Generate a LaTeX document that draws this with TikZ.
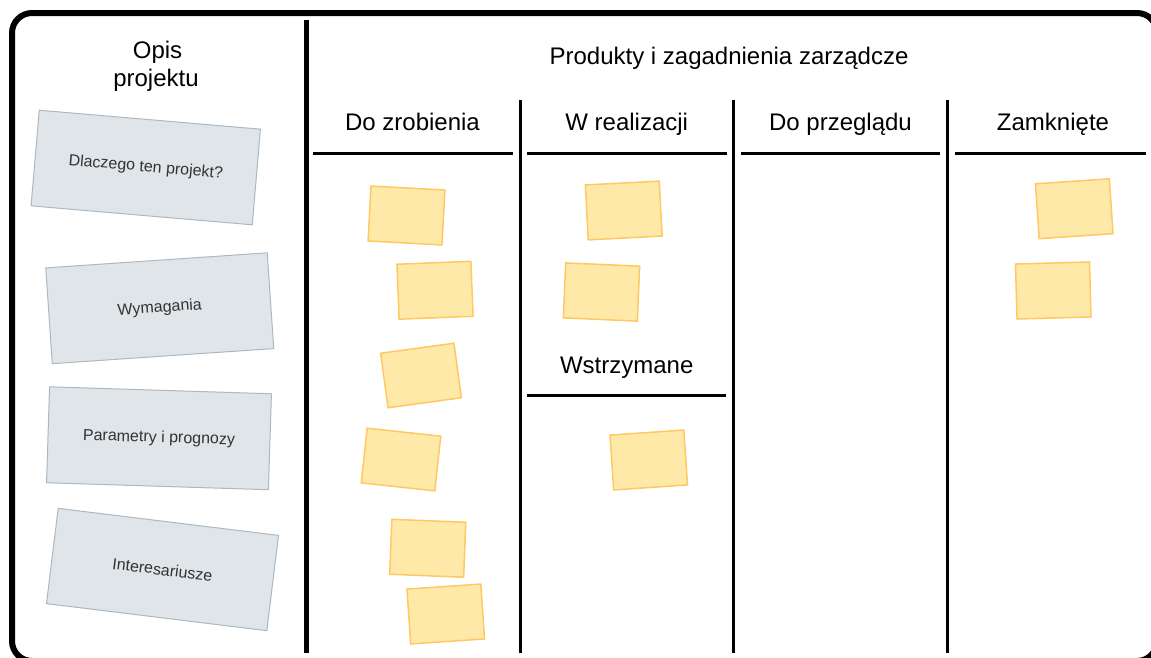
\documentclass[tikz,border=0pt]{standalone}
\usepackage{fontspec}
\setmainfont{Liberation Sans}
\definecolor{cardfill}{RGB}{223,229,232}
\definecolor{cardline}{RGB}{170,185,195}
\definecolor{cardtext}{RGB}{51,51,51}
\definecolor{stickyfill}{RGB}{255,233,168}
\definecolor{stickyline}{RGB}{255,200,100}
\begin{document}
\begin{tikzpicture}[x=1pt,y=-1pt,
  card/.style={draw=cardline, fill=cardfill, line width=1pt, minimum width=222pt,
    minimum height=96pt, inner sep=0pt, font=\fontsize{16}{19}\selectfont, text=cardtext},
  sticky/.style={draw=stickyline, fill=stickyfill, line width=1.5pt, minimum width=74pt,
    minimum height=55pt, inner sep=0pt},
  head/.style={font=\fontsize{24}{28}\selectfont, anchor=base, inner sep=0pt},
  frame/.style={line width=6pt},
  bigdiv/.style={line width=5pt},
  coldiv/.style={line width=3pt}]
\useasboundingbox (0,0) rectangle (1151,657);
\clip (0,0) rectangle (1151,657);
% outer frame (only the parts that fall inside the picture)
\coordinate (fBL) at (40,661);
\coordinate (fTR) at (1157,50);
\coordinate (fBR) at (1157,630);
\coordinate (fBR2) at (1120,661);
\draw[frame] (fBL) -- (32,661) arc[start angle=90,end angle=180,radius=20]
  -- (12,33) arc[start angle=180,end angle=270,radius=20]
  -- (1137,13) arc[start angle=270,end angle=360,radius=20] -- (fTR);
\draw[frame] (fBR) -- (1157,641) arc[start angle=0,end angle=90,radius=20] -- (fBR2);
% dividers
\coordinate (mdT) at (306,20);
\coordinate (mdB) at (306,653);
\draw[bigdiv] (mdT) -- (mdB);
\coordinate (d1T) at (520,100); \coordinate (d1B) at (520,653);
\coordinate (d2T) at (733.5,100); \coordinate (d2B) at (733.5,653);
\coordinate (d3T) at (947.5,100); \coordinate (d3B) at (947.5,653);
\draw[coldiv] (d1T) -- (d1B);
\draw[coldiv] (d2T) -- (d2B);
\draw[coldiv] (d3T) -- (d3B);
% header lines
\coordinate (h1a) at (313,153); \coordinate (h1b) at (513,153);
\coordinate (h2a) at (527,153); \coordinate (h2b) at (727,153);
\coordinate (h3a) at (741,153); \coordinate (h3b) at (940,153);
\coordinate (h4a) at (955,153); \coordinate (h4b) at (1146,153);
\coordinate (h5a) at (527,395); \coordinate (h5b) at (726,395);
\draw[coldiv] (h1a) -- (h1b);
\draw[coldiv] (h2a) -- (h2b);
\draw[coldiv] (h3a) -- (h3b);
\draw[coldiv] (h4a) -- (h4b);
\draw[coldiv] (h5a) -- (h5b);
% texts
\node[head] (opis1) at (157.5,58) {Opis};
\node[head] (opis2) at (156,86) {projektu};
\node[head] (prod) at (729,64) {Produkty i zagadnienia zarządcze};
\node[head] (todo) at (412.5,130) {Do zrobienia};
\node[head] (wip) at (626.7,130) {W realizacji};
\node[head] (rev) at (840.5,130) {Do przeglądu};
\node[head] (done) at (1053,130) {Zamknięte};
\node[head] (hold) at (626.7,373) {Wstrzymane};
% cards
\node[card, rotate=-4.9] (c1) at (145.75,167.5) {Dlaczego ten projekt?};
\node[card, rotate=3.9] (c2) at (159.75,308.25) {Wymagania};
\node[card, rotate=-1.8] (c3) at (159,438.25) {Parametry i prognozy};
\node[card, rotate=-7] (c4) at (162.5,569.5) {Interesariusze};
% sticky notes
\node[sticky, rotate=-3.1] (s1) at (406.5,215.5) {};
\node[sticky, rotate=2.3] (s2) at (435,290.25) {};
\node[sticky, rotate=7.8] (s3) at (421,375.5) {};
\node[sticky, rotate=-6.2] (s4) at (401,459.5) {};
\node[sticky, rotate=-2.3] (s5) at (427.75,548.25) {};
\node[sticky, rotate=3.9] (s6) at (445.75,614) {};
\node[sticky, rotate=3] (s7) at (623.75,210.5) {};
\node[sticky, rotate=-2.5] (s8) at (601.5,292) {};
\node[sticky, rotate=3.9] (s9) at (648.75,460) {};
\node[sticky, rotate=3.9] (s10) at (1074.25,208.75) {};
\node[sticky, rotate=1.6] (s11) at (1053.25,290.5) {};
\end{tikzpicture}
\end{document}
